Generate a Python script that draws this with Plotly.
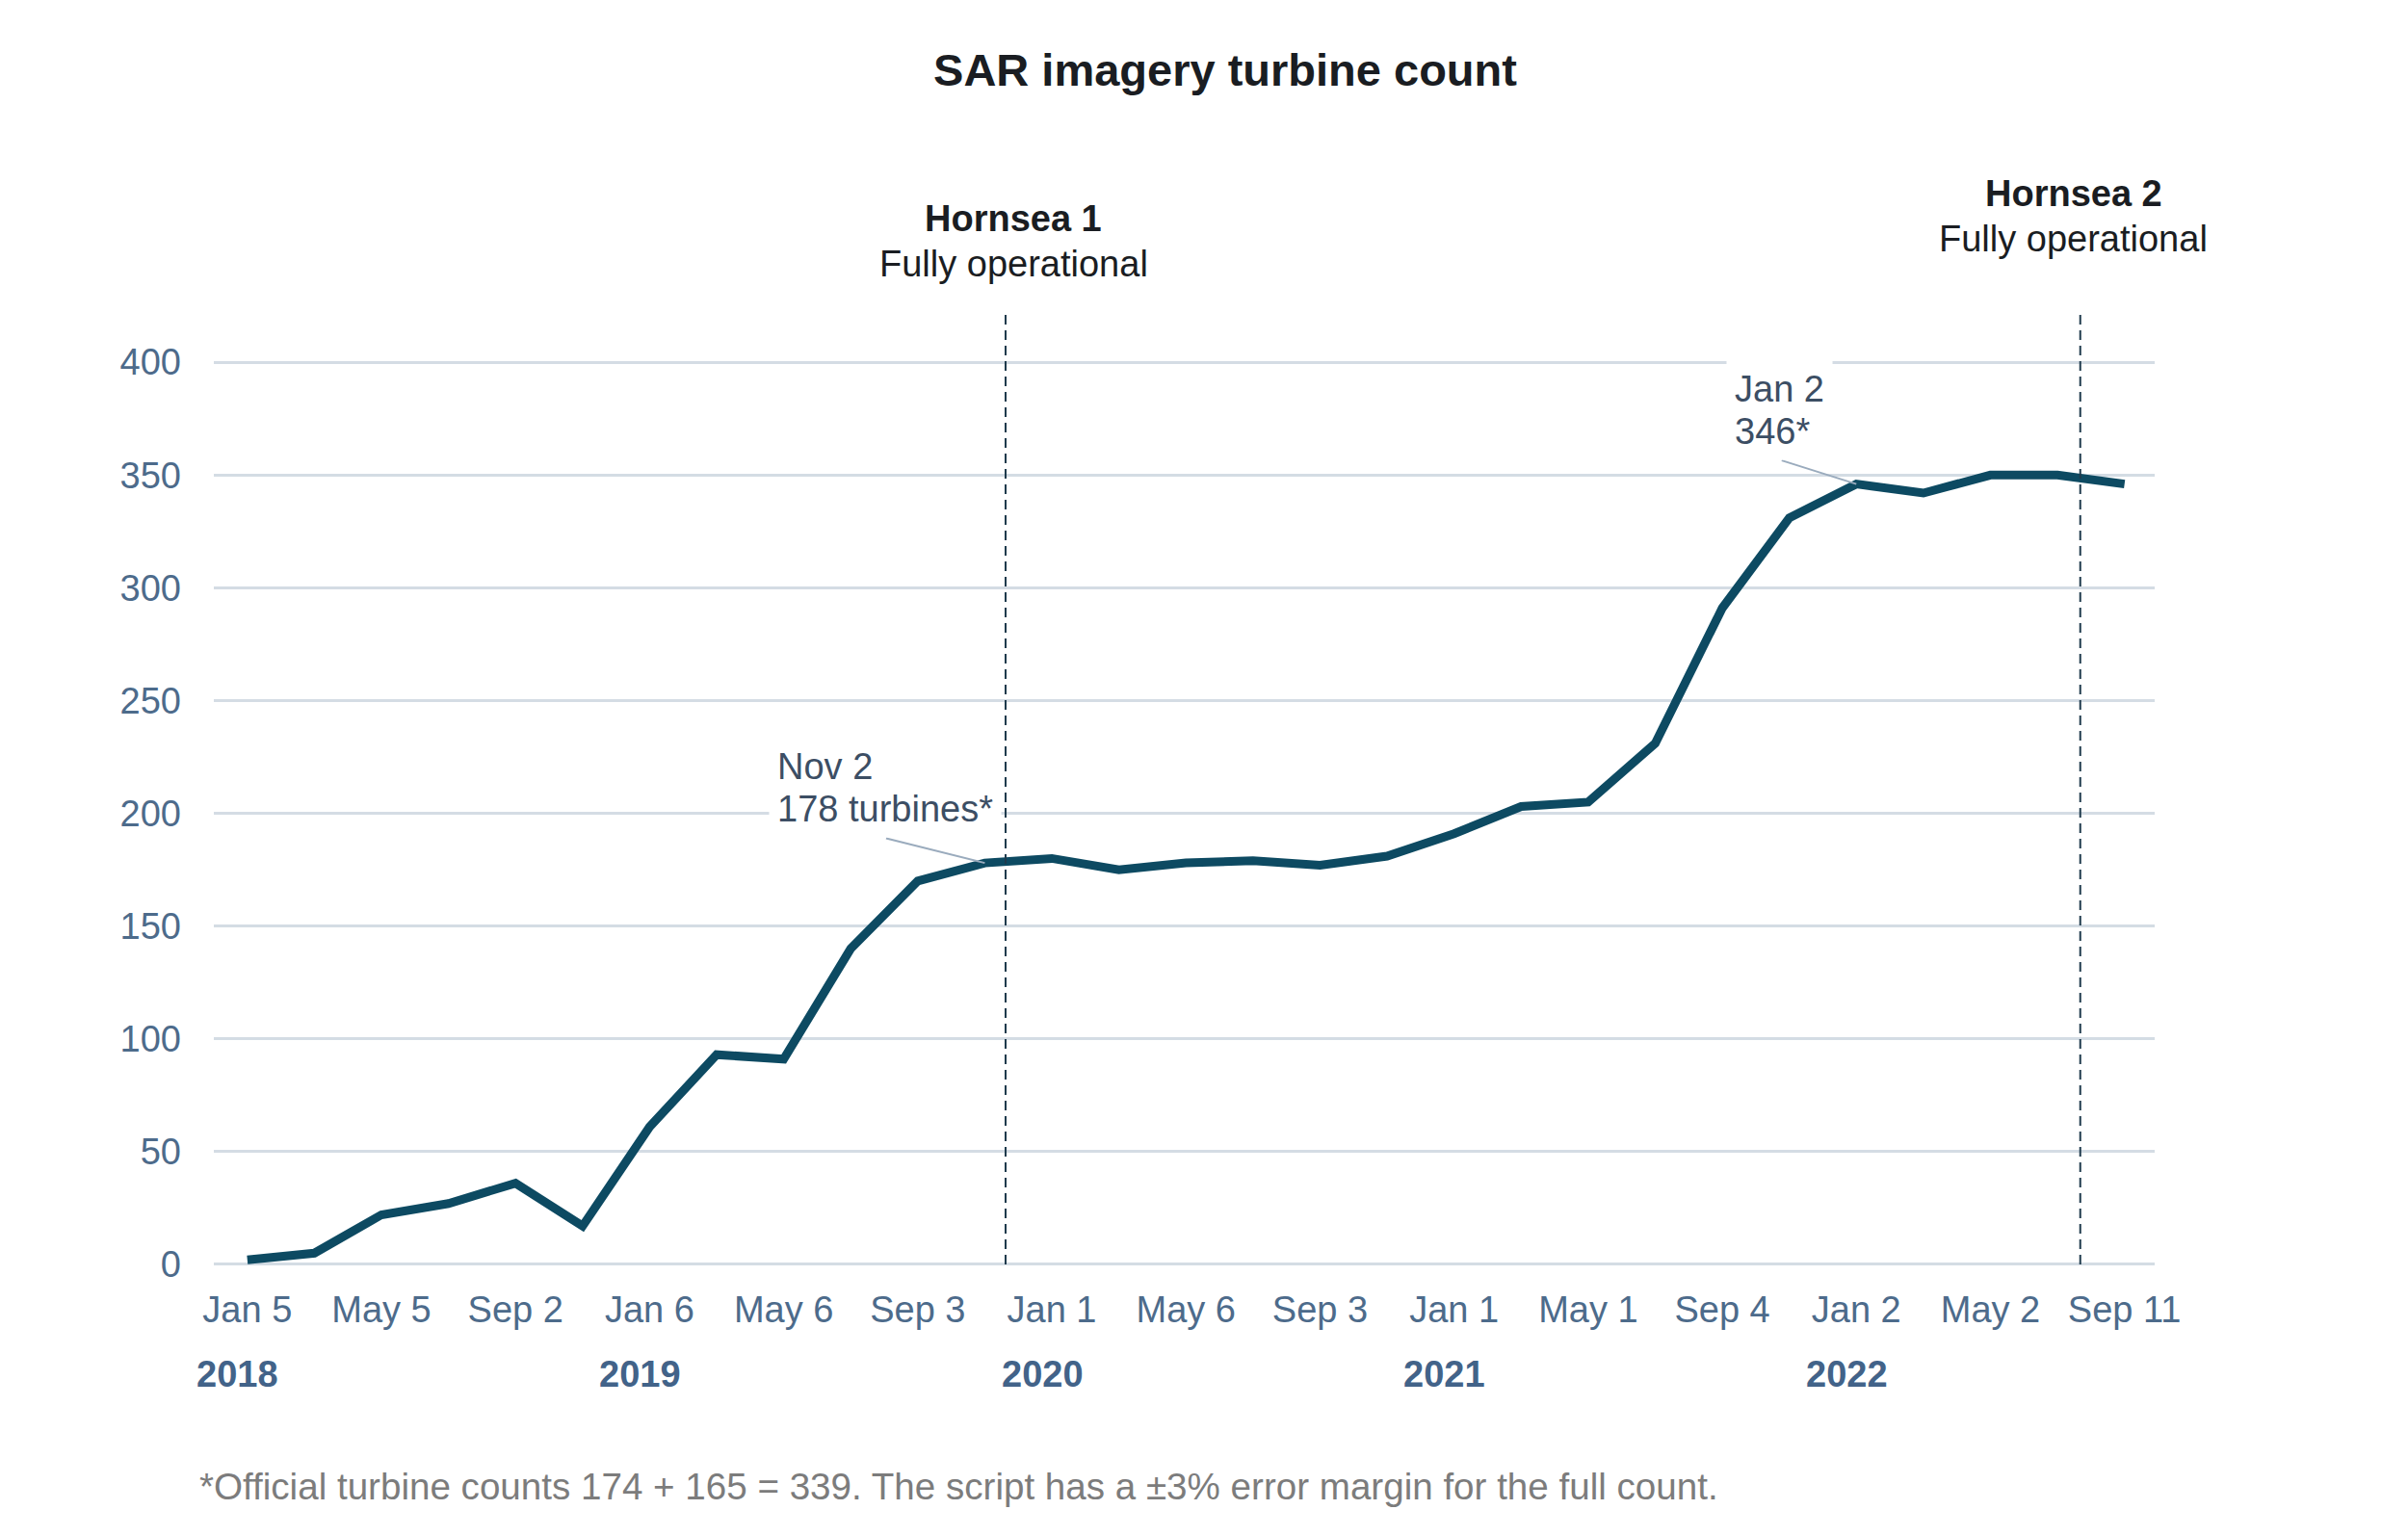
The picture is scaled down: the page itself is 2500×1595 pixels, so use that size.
import plotly.graph_objects as go

# ---------------- data ----------------
periods = ["2018-01-05", "2018-03", "2018-05-05", "2018-07", "2018-09-02", "2018-11",
           "2019-01-06", "2019-03", "2019-05-06", "2019-07", "2019-09-03", "2019-11-02",
           "2020-01-01", "2020-03", "2020-05-06", "2020-07", "2020-09-03", "2020-11",
           "2021-01-01", "2021-03", "2021-05-01", "2021-07", "2021-09-04", "2021-11",
           "2022-01-02", "2022-03", "2022-05-02", "2022-07", "2022-09-11"]
turbines = [2, 5, 22, 27, 36, 17,
            61, 93, 91, 140, 170, 178,
            180, 175, 178, 179, 177, 181,
            191, 203, 205, 231, 291, 331,
            346, 342, 350, 350, 346]

tick_periods = ["2018-01-05", "2018-05-05", "2018-09-02", "2019-01-06", "2019-05-06",
                "2019-09-03", "2020-01-01", "2020-05-06", "2020-09-03", "2021-01-01",
                "2021-05-01", "2021-09-04", "2022-01-02", "2022-05-02", "2022-09-11"]
tick_labels = ["Jan 5", "May 5", "Sep 2", "Jan 6", "May 6", "Sep 3", "Jan 1", "May 6",
               "Sep 3", "Jan 1", "May 1", "Sep 4", "Jan 2", "May 2", "Sep 11"]

year_periods = ["2018-01-05", "2019-01-06", "2020-01-01", "2021-01-01", "2022-01-02"]
year_labels = ["2018", "2019", "2020", "2021", "2022"]

y_ticks = [0, 50, 100, 150, 200, 250, 300, 350, 400]

# events (position on the period axis, between observations)
event_positions = [11.31, 27.34]
event_names = ["Hornsea 1", "Hornsea 2"]
event_notes = ["Fully operational", "Fully operational"]

# call-outs
callout_periods = ["2019-11-02", "2022-01-02"]
callout_values = [178, 346]
callout_line1 = ["Nov 2", "Jan 2"]
callout_line2 = ["178 turbines*", "346*"]

title_text = "SAR imagery turbine count"
footnote_text = ("*Official turbine counts 174 + 165 = 339. "
                 "The script has a \u00b13% error margin for the full count.")

# ---------------- style ----------------
FONT = "Liberation Sans, Arial, Helvetica, sans-serif"
LINE_COLOR = "#0d4a62"
GRID_COLOR = "#d4dce4"
TICK_COLOR = "#4d6b8b"
YEAR_COLOR = "#426389"
NOTE_COLOR = "#3c4e64"
DARK = "#1a1d22"
FOOT_COLOR = "#7c7c7c"
FS = 38

# the page body has an 8px default margin, so the figure is 8px smaller
W, H = 2492, 1587

event_style = [dict(xshift=8, y1=100, y2=53), dict(xshift=-7, y1=126, y2=79)]
callout_style = [dict(xshift=-224, y1=100, y2=56, ax=-104, ay=-26),
                 dict(xshift=-135, y1=99, y2=55, ax=-79, ay=-25)]

fig = go.Figure()
fig.add_trace(go.Scatter(
    x=periods, y=turbines, mode="lines",
    line=dict(color=LINE_COLOR, width=9, shape="linear"),
    hoverinfo="x+y", showlegend=False,
))

annotations = []
shapes = []

# event dashed lines and labels
for pos, name, note, st in zip(event_positions, event_names, event_notes, event_style):
    shapes.append(dict(type="line", xref="x", yref="y", x0=pos, x1=pos, y0=0, y1=421,
                       line=dict(color="#1f3b4d", width=2, dash="10px,6px"), layer="above"))
    annotations.append(dict(xref="x", yref="paper", x=pos, y=1, xanchor="center", yanchor="middle",
                            xshift=st["xshift"], yshift=st["y1"], showarrow=False,
                            text="<b>" + name + "</b>",
                            font=dict(family=FONT, size=FS, color=DARK)))
    annotations.append(dict(xref="x", yref="paper", x=pos, y=1, xanchor="center", yanchor="middle",
                            xshift=st["xshift"], yshift=st["y2"], showarrow=False,
                            text=note, font=dict(family=FONT, size=FS, color=DARK)))

# call-outs
for per, val, l1, l2, st in zip(callout_periods, callout_values, callout_line1, callout_line2, callout_style):
    annotations.append(dict(xref="x", yref="y", x=per, y=val, text="", showarrow=True,
                            arrowhead=0, arrowwidth=2, arrowcolor="#9aabbd",
                            ax=st["ax"], ay=st["ay"], standoff=0, startstandoff=0))
    annotations.append(dict(xref="x", yref="y", x=per, y=val, xanchor="left", yanchor="middle",
                            xshift=st["xshift"], yshift=st["y1"], showarrow=False, text=l1,
                            bgcolor="white", borderpad=8,
                            font=dict(family=FONT, size=FS, color=NOTE_COLOR)))
    annotations.append(dict(xref="x", yref="y", x=per, y=val, xanchor="left", yanchor="middle",
                            xshift=st["xshift"], yshift=st["y2"], showarrow=False, text=l2,
                            bgcolor="white", borderpad=8,
                            font=dict(family=FONT, size=FS, color=NOTE_COLOR)))

# year labels
for per, yr in zip(year_periods, year_labels):
    annotations.append(dict(xref="x", yref="paper", x=per, y=0, xanchor="center", yanchor="middle",
                            xshift=-10, yshift=-107, showarrow=False, text="<b>" + yr + "</b>",
                            font=dict(family=FONT, size=FS, color=YEAR_COLOR)))

# footnote
annotations.append(dict(xref="paper", yref="paper", x=0, y=0, xanchor="left", yanchor="middle",
                        xshift=-17, yshift=-223, showarrow=False, text=footnote_text,
                        font=dict(family=FONT, size=38.6, color=FOOT_COLOR)))

fig.update_layout(
    width=W, height=H,
    paper_bgcolor="white", plot_bgcolor="white",
    margin=dict(l=214, r=263, t=319, b=275, autoexpand=False),
    title=dict(text="<b>" + title_text + "</b>", x=1264 / W, xanchor="center",
               y=1 - 65 / H, yanchor="middle", xref="container", yref="container",
               font=dict(family=FONT, size=47, color=DARK)),
    xaxis=dict(type="category", categoryorder="array", categoryarray=periods,
               range=[-0.5, 28.45], tickmode="array", tickvals=tick_periods, ticktext=tick_labels,
               showgrid=False, zeroline=False, showline=False, ticks="",
               tickfont=dict(family=FONT, size=FS, color=TICK_COLOR), ticklabelstandoff=14),
    yaxis=dict(range=[-3, 421], tickmode="array", tickvals=y_ticks,
               showgrid=True, gridcolor=GRID_COLOR, gridwidth=3, zeroline=False, showline=False,
               ticks="", tickfont=dict(family=FONT, size=FS, color=TICK_COLOR), ticklabelstandoff=33),
    annotations=annotations,
    shapes=shapes,
    showlegend=False,
)

fig.write_html("out.html")
